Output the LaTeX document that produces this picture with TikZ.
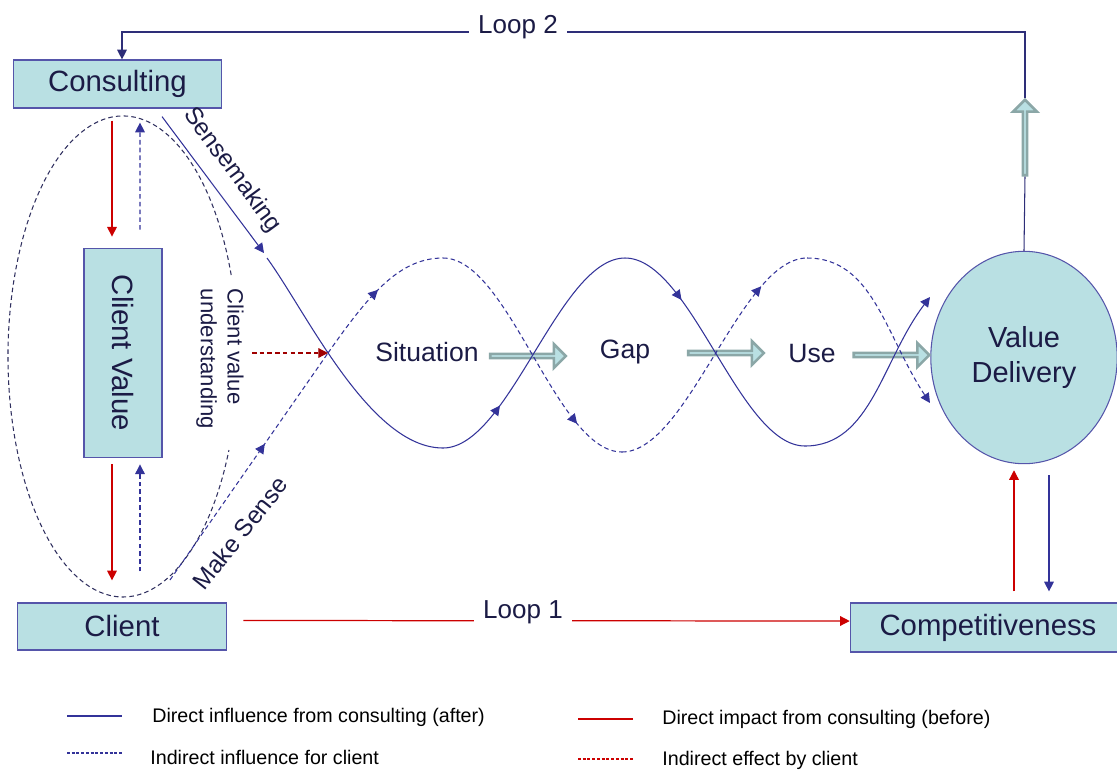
\documentclass[tikz,border=0pt]{standalone}
\usepackage{fontspec}
\setmainfont{Liberation Sans}
\usetikzlibrary{arrows.meta,shapes.arrows,shapes.geometric,decorations.markings}
\definecolor{navy}{HTML}{333399}
\definecolor{loopc}{HTML}{2E2E78}
\definecolor{txt}{HTML}{1B1B45}
\definecolor{boxfill}{HTML}{B9E0E3}
\definecolor{boxline}{HTML}{5555AA}
\definecolor{arrline}{HTML}{8BA7A7}
\definecolor{redc}{HTML}{CC0000}
\definecolor{dredc}{HTML}{A00000}
\definecolor{ellc}{HTML}{30305F}
\begin{document}
\begin{tikzpicture}[x=0.02cm,y=-0.02cm,
  >={Triangle[length=5.5pt,width=5.5pt]},
  box/.style={draw=boxline, fill=boxfill, line width=0.8pt, text=txt, font=\fontsize{16.7}{20}\selectfont, inner sep=0pt},
  blk/.style={single arrow, draw=arrline, fill=boxfill, line width=1.5pt, minimum height=43pt, minimum width=13.6pt, single arrow head extend=3.4pt, inner sep=0pt},
  solidln/.style={navy, line width=0.6pt},
  dashln/.style={navy, line width=0.6pt, dash pattern=on 2.6pt off 1.8pt},
  redln/.style={redc, line width=0.7pt},
  lbl/.style={text=txt, inner sep=0pt},
  legtxt/.style={anchor=west, inner sep=0pt, text=black, font=\fontsize{11.2}{13}\selectfont},
  marrow/.style={postaction={decorate}, decoration={markings, mark=at position #1 with {\arrow[solid]{>}}}}
]
\useasboundingbox (0,0) rectangle (1117,769);

% main nodes
\node[box, minimum width=118.6pt, minimum height=27.2pt] (cons) at (117.5,84) {Consulting};
\node[box, rotate=-90, minimum width=119.2pt, minimum height=44.3pt] (cv) at (123,353) {Client Value};
\node[box, minimum width=119.2pt, minimum height=26.7pt] (cli) at (122,626.5) {Client};
\node[box, minimum width=156.6pt, minimum height=27.8pt] (comp) at (988,627.5) {Competitiveness};
\node[box, ellipse, line width=0.6pt, minimum width=106.1pt, minimum height=120.9pt, align=center, font=\fontsize{16.5}{20.4}\selectfont] (vd) at (1024,357.5) {Value\\Delivery};

% block arrows
\node[blk, rotate=90] (up) at (1025,138.5) {};
\node[blk] (a1) at (527,356) {};
\node[blk] (a2) at (725,353) {};
\node[blk] (a3) at (890.5,355) {};

% labels
\node[lbl, font=\fontsize{15.1}{18}\selectfont] (sit) at (427,352) {Situation};
\node[lbl, font=\fontsize{15.1}{18}\selectfont] (gap) at (625,352) {Gap};
\node[lbl, font=\fontsize{15.1}{18}\selectfont] (use) at (812,353) {Use};
\node[lbl, rotate=-90, align=left, font=\fontsize{12.6}{15.3}\selectfont] (cvu) at (220,359) {Client value\\understanding};
\node[lbl, rotate=-53.7, font=\fontsize{13.9}{16}\selectfont] (sm) at (232,170) {Sensemaking};
\node[lbl, rotate=51.5, font=\fontsize{13.9}{16}\selectfont] (mk) at (240,533) {Make Sense};

% Loop 2
\coordinate (l2) at (0,32);
\draw[loopc, line width=0.6pt] (vd.north) -- (up.tail);
\draw[loopc, line width=0.6pt, ->] (up.tip) -- (up.tip |- l2) -| ([shift={(4.5,0)}]cons.north);
\node[lbl, fill=white, inner xsep=5pt, inner ysep=2pt, font=\fontsize{14.8}{17}\selectfont] (loop2) at (518,27) {Loop 2};

% Loop 1
\draw[redln, ->] ([shift={(16,-6)}]cli.east) -- ([shift={(0,-6.5)}]comp.west);
\node[lbl, fill=white, inner xsep=5pt, inner ysep=2pt, font=\fontsize{14.8}{17}\selectfont] (loop1) at (523,612) {Loop 1};

% right vertical arrows
\draw[redln, ->] ([shift={(26,-11)}]comp.north) -- ([shift={(-10,6)}]vd.south);
\draw[solidln, ->] ([shift={(25,11)}]vd.south) -- ([shift={(61,-11)}]comp.north);

% left vertical arrows
\draw[redln, ->] ([shift={(-5.5,12)}]cons.south) -- ([shift={(-11,-11)}]cv.west);
\draw[dashln, ->] ([shift={(17,-18)}]cv.west) -- ([shift={(22.5,14)}]cons.south);
\draw[redln, ->] ([shift={(-11,6)}]cv.east) -- ([shift={(-10,-22)}]cli.north);
\draw[dashln, ->] ([shift={(18,-31)}]cli.north) -- ([shift={(17,6)}]cv.east);

% dashed ellipse
\draw[ellc, line width=0.6pt, dash pattern=on 2.6pt off 1.8pt] (231.2,275) arc[start angle=-19.8, end angle=-337.1, x radius=115, y radius=240.5];

% Sensemaking line and solid wave
\coordinate (w0) at (267,258);
\draw[solidln, ->] ([shift={(44.5,8)}]cons.south) -- ([shift={(-3,-5)}]w0);
\draw[solidln] (w0) .. controls (307,313) and (370,448) .. (443,448);
\draw[solidln, marrow=0.27] (443,448) .. controls (509,448) and (559,258) .. (625,258);
\draw[solidln, marrow=0.27] (625,258) .. controls (691,258) and (739,446) .. (805,446);
\draw[solidln, ->] (805,446) .. controls (871,446) and (882,360) .. (930,297);

% Make Sense dashed wave
\coordinate (ms) at (170,580);
\coordinate (xc) at (328,353);
\draw[dashln, marrow=0.6] (ms) -- (xc);
\draw[dashln, marrow=0.52] (xc) .. controls (370,293) and (400,258) .. (443,258);
\draw[dashln, marrow=0.8] (443,258) .. controls (509,258) and (556,452) .. (622,452);
\draw[dashln, marrow=0.8] (622,452) .. controls (688,452) and (741,258) .. (807,258);
\draw[dashln, ->] (807,258) .. controls (873,258) and (885,335) .. (930,403);

% red dashed arrow
\coordinate (cvuend) at (252,353);
\draw[dredc, line width=0.7pt, dash pattern=on 2.6pt off 1.8pt, ->] (cvuend) -- (xc);

% legend
\draw[solidln] (67,716) -- (122,716);
\node[legtxt] (leg1) at (152,717) {Direct influence from consulting (after)};
\draw[navy, line width=0.6pt, dash pattern=on 1.6pt off 1.1pt] (67,753) -- (122,753);
\node[legtxt] (leg2) at (150,757) {Indirect influence for client};
\draw[redln] (578,719) -- (633,719);
\node[legtxt] (leg3) at (662,719) {Direct impact from consulting (before)};
\draw[redc, line width=0.6pt, dash pattern=on 1.6pt off 1.1pt] (578,759) -- (633,759);
\node[legtxt] (leg4) at (662,760) {Indirect effect by client};
\end{tikzpicture}
\end{document}
